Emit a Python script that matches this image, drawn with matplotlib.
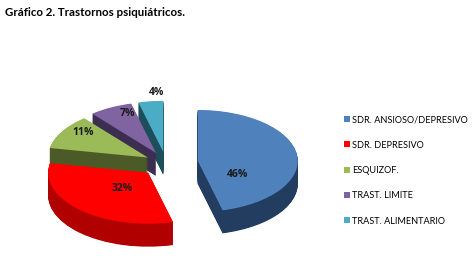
import numpy as np
import matplotlib
matplotlib.use('Agg')
import matplotlib.pyplot as plt

# data
categorias = ['SDR. ANSIOSO/DEPRESIVO', 'SDR. DEPRESIVO', 'ESQUIZOF.',
              'TRAST. LIMITE', 'TRAST. ALIMENTARIO']
porcentajes = [46, 32, 11, 7, 4]

# colours (top face / side wall)
colores = ['#4F81BD', '#FF0000', '#9BBB59', '#8064A2', '#4BACC6']
lados = ['#223D60', '#B00000', '#4B5A27', '#3B2E51', '#1E4E5B']
explode = [0.32, 0.26, 0.21, 0.22, 0.22]
# label placement: angle offset (deg) from wedge middle, radial distance
lab_rot = [-40, 2, -7, -7, -4]
lab_dist = [0.475, 0.40, 0.82, 0.83, 1.16]

W, H = 477, 258
cx, cy = 166, 163      # pie centre in pixels
R, k = 100, 0.51       # radius (px) and vertical squash
depth = 23             # wall height (px)

fig = plt.figure(figsize=(W / 100, H / 100), dpi=100)
ax = fig.add_axes([0, 0, 1, 1])

h = depth / (R * k)
n = 40
for off in np.linspace(h, 0, n, endpoint=False):
    ax.pie(porcentajes, explode=explode, colors=lados, startangle=90,
           counterclock=False, center=(0, -off), radius=1,
           wedgeprops=dict(linewidth=0, antialiased=True))

wedges, _ = ax.pie(porcentajes, explode=explode, colors=colores, startangle=90,
                   counterclock=False, center=(0, 0), radius=1,
                   wedgeprops=dict(linewidth=0))

# percent labels
for w, p, r, d in zip(wedges, porcentajes, lab_rot, lab_dist):
    ang = np.deg2rad((w.theta1 + w.theta2) / 2 + r)
    x0, y0 = w.center
    ax.text(x0 + d * np.cos(ang), y0 + d * np.sin(ang), f'{p}%',
            ha='center', va='center', fontsize=7.5, fontweight='bold',
            color='#1A1A1A', family='Open Sans')

ax.set_aspect('auto')
ax.set_xlim(-cx / R, (W - cx) / R)
ax.set_ylim(-(H - cy) / (R * k), cy / (R * k))
ax.axis('off')

leg = ax.legend(wedges, categorias, loc='upper left',
                bbox_to_anchor=(336 / W, 1 - 107 / H),
                frameon=False, handlelength=0.6, handleheight=0.6,
                handletextpad=0.3, labelspacing=1.78,
                prop=dict(family='Lato', size=6.6))

fig.text(5 / W, 1 - 13 / H, 'Gráfico 2. Trastornos psiquiátricos.',
         fontsize=8.3, fontweight='bold', family='Lato', va='center')

fig.savefig('out.png', dpi=100, facecolor='white')
